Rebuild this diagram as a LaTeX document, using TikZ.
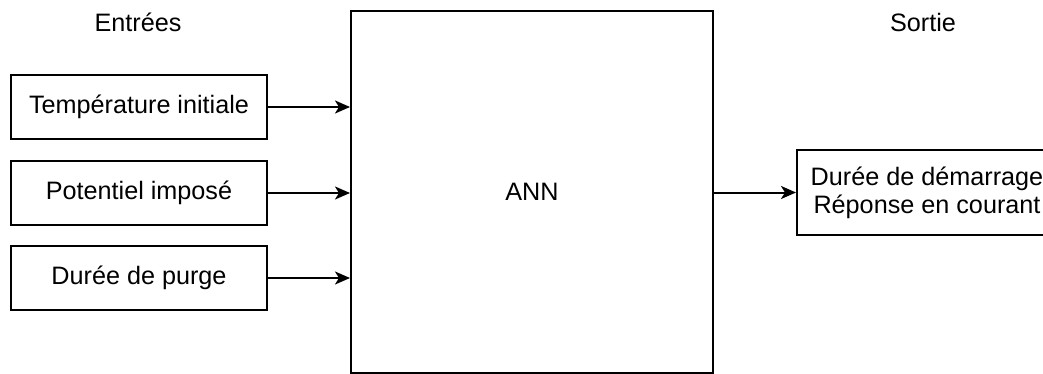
\documentclass[tikz,border=0pt]{standalone}
\usepackage{fontspec}
\setmainfont{Liberation Sans}
\usetikzlibrary{arrows.meta}
\begin{document}
\begin{tikzpicture}[x=0.5pt, y=-0.5pt,
		box/.style={draw, line width=1pt, inner sep=0pt, font=\fontsize{12.6}{14}\selectfont},
		inbox/.style={box, minimum width=128pt, minimum height=32pt},
		arrow/.style={line width=1pt, -{Stealth[length=7.5pt, width=6.5pt, inset=2pt]}}]
	\useasboundingbox (0,0) rectangle (1043,374);
	\clip (0,0) rectangle (1043,374);
	\node[font=\fontsize{12.6}{14}\selectfont] (inlabel) at (138,22) {Entrées};
	\node[font=\fontsize{12.6}{14}\selectfont] (outlabel) at (923,22) {Sortie};
	\node[inbox] (temp) at (139,107) {Température initiale};
	\node[inbox] (pot) at (139,193) {Potentiel imposé};
	\node[inbox] (purge) at (139,278) {Durée de purge};
	\node[box, minimum width=181pt, minimum height=181pt] (ann) at (532,192) {ANN};
	% box runs past the right edge of the page
	\node[box, overlay, minimum width=130pt, minimum height=42.5pt, align=center] (out) at (927,192.5)
		{Durée de démarrage\\Réponse en courant};
	\draw[arrow] (temp.east) -- (temp.east -| ann.west);
	\draw[arrow] (pot.east) -- (pot.east -| ann.west);
	\draw[arrow] (purge.east) -- (purge.east -| ann.west);
	\draw[arrow] (ann.east |- out.west) -- (out.west);
\end{tikzpicture}
\end{document}
